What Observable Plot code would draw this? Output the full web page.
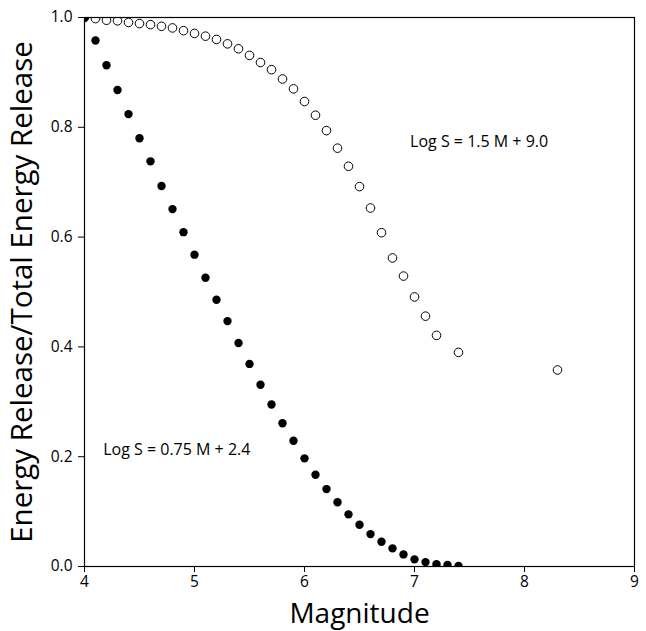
<!DOCTYPE html>
<html>
<head>
<meta charset="utf-8">
<script src="https://cdn.jsdelivr.net/npm/d3@7"></script>
<script src="https://cdn.jsdelivr.net/npm/@observablehq/plot@0.6"></script>
<style>
  html, body { margin: 0; padding: 0; background: #fff; }
  #chart { width: 646px; height: 631px; }
</style>
</head>
<body>
<div id="chart"></div>
<script>
// Filled series: Log S = 0.75 M + 2.4
const filledM = [4.0,4.1,4.2,4.3,4.4,4.5,4.6,4.7,4.8,4.9,5.0,5.1,5.2,5.3,5.4,5.5,5.6,5.7,5.8,5.9,6.0,6.1,6.2,6.3,6.4,6.5,6.6,6.7,6.8,6.9,7.0,7.1,7.2,7.3,7.4];
const filledR = [1.0,0.958,0.913,0.868,0.824,0.780,0.738,0.693,0.651,0.609,0.568,0.526,0.486,0.447,0.407,0.369,0.331,0.295,0.261,0.229,0.197,0.167,0.141,0.117,0.095,0.076,0.059,0.045,0.033,0.022,0.013,0.008,0.004,0.003,0.001];

// Open series: Log S = 1.5 M + 9.0
const openM = [4.0,4.1,4.2,4.3,4.4,4.5,4.6,4.7,4.8,4.9,5.0,5.1,5.2,5.3,5.4,5.5,5.6,5.7,5.8,5.9,6.0,6.1,6.2,6.3,6.4,6.5,6.6,6.7,6.8,6.9,7.0,7.1,7.2,7.4,8.3];
const openR = [1.0,0.998,0.995,0.994,0.991,0.989,0.987,0.984,0.981,0.976,0.971,0.966,0.960,0.952,0.943,0.931,0.918,0.905,0.888,0.870,0.847,0.822,0.794,0.762,0.729,0.692,0.653,0.608,0.562,0.529,0.491,0.456,0.421,0.390,0.358];

const xTicks = [4,5,6,7,8,9];
const yTicks = [0.0,0.2,0.4,0.6,0.8,1.0];

const labels = ["Log S = 1.5 M + 9.0", "Log S = 0.75 M + 2.4"];
const labelM = [6.96, 4.17];
const labelR = [0.774, 0.212];

const filled = filledM.map((m, i) => ({m, r: filledR[i]}));
const open = openM.map((m, i) => ({m, r: openR[i]}));
const notes = labels.map((t, i) => ({t, m: labelM[i], r: labelR[i]}));

const FONT = "'Open Sans', sans-serif";

const chart = Plot.plot({
  width: 646,
  height: 631,
  marginLeft: 84,
  marginRight: 12,
  marginTop: 17,
  marginBottom: 65,
  style: {fontFamily: FONT, fontSize: "15px", color: "#000", background: "#fff", overflow: "visible"},
  x: {domain: [4, 9]},
  y: {domain: [0, 1]},
  marks: [
    Plot.dot(open, {x: "m", y: "r", r: 4.3, fill: "#fff", stroke: "#000", strokeWidth: 1, clip: "frame"}),
    Plot.dot(filled, {x: "m", y: "r", r: 4.2, fill: "#000", stroke: "none", clip: "frame"}),
    Plot.frame({stroke: "#000", strokeWidth: 1.2}),
    Plot.axisX({ticks: xTicks, tickSize: 6, tickPadding: 3, tickFormat: d3.format("d"),
      label: "Magnitude", labelAnchor: "center", labelArrow: "none", labelOffset: 56}),
    Plot.axisY({ticks: yTicks, tickSize: 6, tickPadding: 6, tickFormat: d3.format(".1f"),
      label: "Energy Release/Total Energy Release", labelAnchor: "center", labelArrow: "none", labelOffset: 73}),
    Plot.text(notes, {x: "m", y: "r", text: "t", textAnchor: "start", fontSize: 16, fill: "#000"})
  ]
});

// tick label size
chart.querySelectorAll('[aria-label="x-axis tick label"], [aria-label="y-axis tick label"]').forEach(g => {
  g.setAttribute("font-size", "15.5");
  g.querySelectorAll("text").forEach(t => t.setAttribute("font-size", "15.5"));
});
// enlarge axis titles
chart.querySelectorAll('[aria-label="x-axis label"] text').forEach(t => {
  t.setAttribute("font-size", "28");
  t.style.fontSize = "28px";
});
chart.querySelectorAll('[aria-label="y-axis label"] text').forEach(t => {
  t.setAttribute("font-size", "29.5");
  t.style.fontSize = "29.5px";
});
document.getElementById("chart").appendChild(chart);
</script>
</body>
</html>
